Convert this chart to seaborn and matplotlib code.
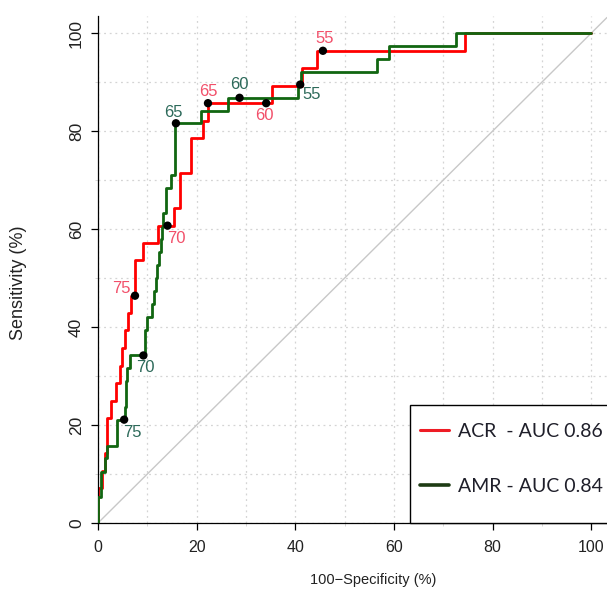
import matplotlib
matplotlib.use("Agg")
import matplotlib.pyplot as plt
import seaborn as sns
from matplotlib.lines import Line2D
from matplotlib.patches import Rectangle

# ROC step vertices: each point is (100-specificity where the curve rises, sensitivity reached)
acr_fpr = [0, 0, 0.8, 1.5, 1.8, 2.6, 3.6, 4.5, 4.9, 5.5, 6.0, 6.6, 7.5, 9.1, 12.2,
           15.4, 16.7, 18.8, 21.3, 22.3, 35.2, 41.3, 44.4, 74.5, 100]
acr_tpr = [0, 7.1, 10.7, 14.3, 21.4, 25.0, 28.6, 32.1, 35.7, 39.3, 42.9, 46.4, 53.6, 57.1, 60.7,
           64.3, 71.4, 78.6, 82.1, 85.7, 89.3, 92.9, 96.4, 100, 100]

amr_fpr = [0, 0, 0.7, 1.4, 1.9, 3.9, 5.5, 5.7, 5.9, 6.4, 9.5, 10.0, 11.0, 11.4, 11.8, 12.0,
           12.4, 12.7, 12.9, 13.2, 13.8, 14.7, 15.6, 20.9, 26.4, 40.6, 41.1, 56.5, 59.1, 72.6, 100]
amr_tpr = [0, 5.3, 10.5, 13.2, 15.8, 21.1, 23.7, 28.9, 31.6, 34.2, 39.5, 42.1, 44.7, 47.4, 50.0, 52.6,
           55.3, 57.9, 60.5, 63.2, 68.4, 71.1, 81.6, 84.2, 86.8, 89.5, 92.1, 94.7, 97.4, 100, 100]

# cut-off points marked on each curve
acr_cut_labels = ["75", "70", "65", "60", "55"]
acr_cut_fpr = [7.5, 14.1, 22.3, 34.1, 45.6]
acr_cut_tpr = [46.4, 60.7, 85.7, 85.7, 96.4]

amr_cut_labels = ["75", "70", "65", "60", "55"]
amr_cut_fpr = [5.3, 9.2, 15.8, 28.7, 41.0]
amr_cut_tpr = [21.1, 34.2, 81.6, 86.8, 89.5]

legend_labels = ["ACR  - AUC 0.86", "AMR - AUC 0.84"]
major_ticks = [0, 20, 40, 60, 80, 100]
minor_ticks = [10, 30, 50, 70, 90]

sns.set_theme(style="ticks")
plt.rcParams["font.family"] = ["Liberation Sans", "DejaVu Sans"]

RED = "#ff0000"
GREEN = "#116611"
RED_TXT = "#f2506a"
GREEN_TXT = "#2d6a5a"
TXT = "#222222"

W, H = 607, 596
fig = plt.figure(figsize=(W / 100, H / 100), dpi=100)
x0, y0 = 98, 523  # axes origin in pixels
ax = fig.add_axes([x0 / W, (H - y0) / H, (W - x0) / W, (y0 - 16) / H])
ax.set_xlim(0, 103.2)
ax.set_ylim(0, 103.5)


def ax_frac(px, py):
    """pixel position -> axes fraction"""
    return (px - x0) / (W - x0), (y0 - py) / (y0 - 16)


ax.set_xticks(major_ticks)
ax.set_yticks(major_ticks)
ax.set_xticks(minor_ticks, minor=True)
ax.set_yticks(minor_ticks, minor=True)
ax.grid(which="both", linestyle=(0, (1.5, 3)), color="#d4d4d4", linewidth=0.9)
ax.set_axisbelow(True)

# chance line
ax.axline((0, 0), slope=1, color="#c8c8c8", linewidth=1.0, zorder=1)

sns.lineplot(x=amr_fpr, y=amr_tpr, sort=False, estimator=None, drawstyle="steps-post",
             color=GREEN, linewidth=2.0, ax=ax, zorder=3)
sns.lineplot(x=acr_fpr, y=acr_tpr, sort=False, estimator=None, drawstyle="steps-post",
             color=RED, linewidth=2.0, ax=ax, zorder=2)

sns.scatterplot(x=acr_cut_fpr + amr_cut_fpr, y=acr_cut_tpr + amr_cut_tpr, color="black",
                s=36, edgecolor="none", ax=ax, zorder=5)

label_size = 12
acr_offsets = [((-3, 0), "right", "bottom"), ((0, -3.5), "left", "top"),
               ((0, 3), "center", "bottom"), ((-1, -3.5), "center", "top"),
               ((1.5, 3.5), "center", "bottom")]
amr_offsets = [((-1, -3.5), "left", "top"), ((1.5, -3), "center", "top"),
               ((-2, 2.5), "center", "bottom"), ((0, 4.5), "center", "bottom"),
               ((1.5, -1.5), "left", "top")]
for lab, x, y, (off, ha, va) in zip(acr_cut_labels, acr_cut_fpr, acr_cut_tpr, acr_offsets):
    ax.annotate(lab, (x, y), xytext=off, textcoords="offset points", ha=ha, va=va,
                color=RED_TXT, fontsize=label_size, zorder=6)
for lab, x, y, (off, ha, va) in zip(amr_cut_labels, amr_cut_fpr, amr_cut_tpr, amr_offsets):
    ax.annotate(lab, (x, y), xytext=off, textcoords="offset points", ha=ha, va=va,
                color=GREEN_TXT, fontsize=label_size, zorder=6)

for side in ("top", "right"):
    ax.spines[side].set_visible(False)
for side in ("left", "bottom"):
    ax.spines[side].set_color("black")
    ax.spines[side].set_linewidth(0.9)

ax.tick_params(which="major", length=5, width=0.9, color="black", direction="out",
               labelcolor=TXT)
ax.tick_params(axis="x", which="major", labelsize=11.5, pad=7.5)
ax.tick_params(axis="y", which="major", labelsize=12.5, pad=5)
ax.tick_params(which="minor", length=2.5, width=0.6, color="#d0d0d0", direction="out")
plt.setp(ax.get_yticklabels(), rotation=90, va="center")

ax.set_xlabel("100\u2212Specificity (%)", fontsize=10.5, color=TXT)
ax.set_ylabel("Sensitivity (%)", fontsize=13, color=TXT)
ax.xaxis.set_label_coords(0.54, -0.112)
ax.xaxis.label.set_va("center")
ax.yaxis.set_label_coords(-0.157, 0.473)
ax.yaxis.label.set_va("center")

# legend: frameless entries inside a square box sitting on the x axis
handles = [Line2D([], [], color="#ee1c25", linewidth=2.2),
           Line2D([], [], color="#1e3b14", linewidth=2.6)]
leg = ax.legend(handles, legend_labels, loc="upper left", bbox_to_anchor=ax_frac(420, 423),
                frameon=False, handlelength=1.5, handletextpad=0.45, labelspacing=1.94,
                borderpad=0, borderaxespad=0, prop={"family": "Lato", "size": 14})
for t in leg.get_texts():
    t.set_color("#1f1f2a")
bx, by = ax_frac(410, 523)
bw, bh = ax_frac(612, 405)
ax.add_patch(Rectangle((bx, by), bw - bx, bh - by, transform=ax.transAxes,
                       facecolor="white", edgecolor="black", linewidth=1.0,
                       clip_on=False, zorder=7))
leg.set_zorder(8)

fig.savefig("out.png", dpi=100)
